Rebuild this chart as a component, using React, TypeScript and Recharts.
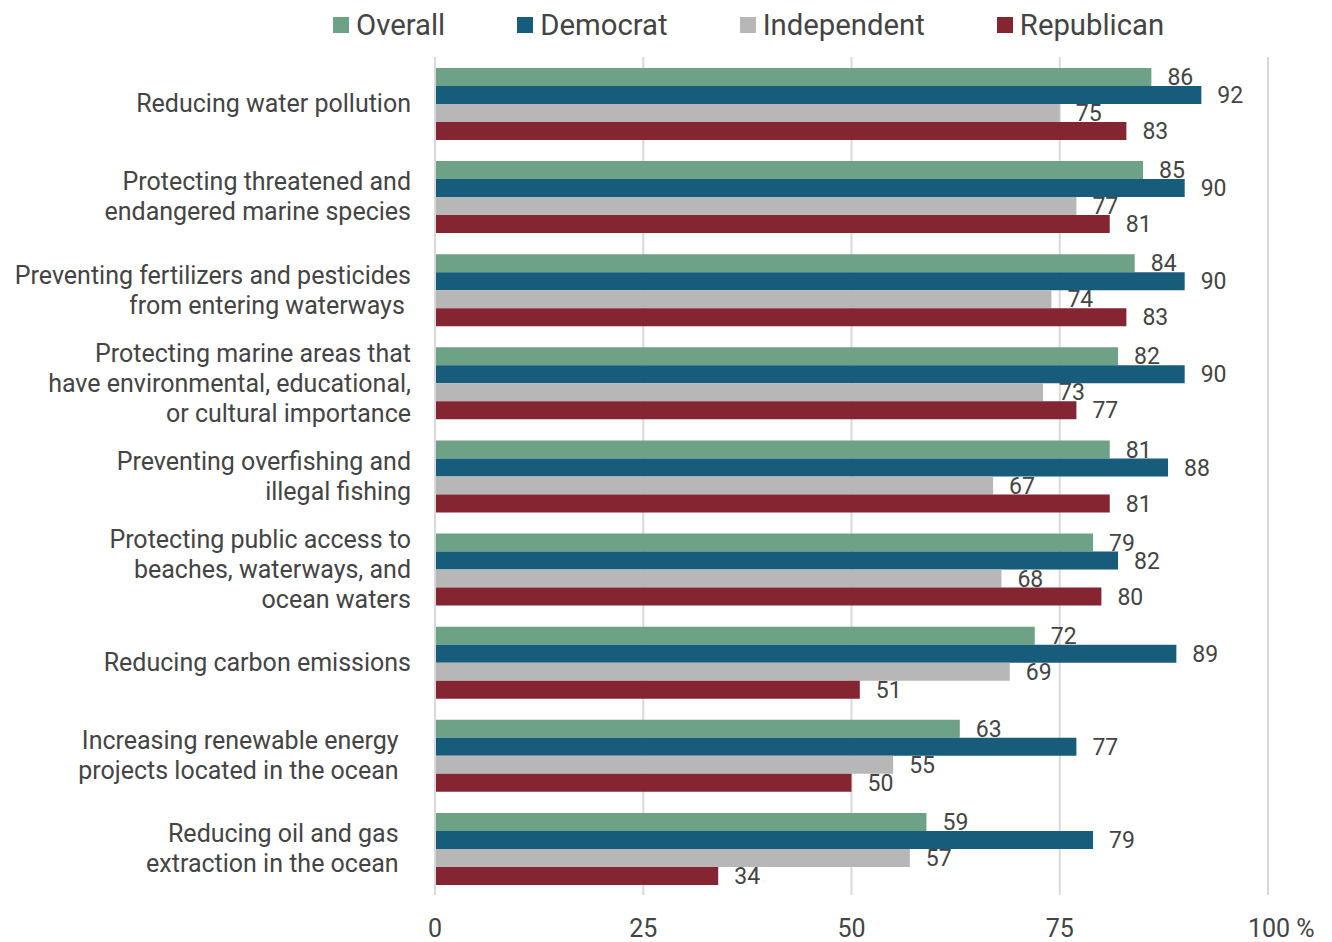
import React from 'react';
import { BarChart, Bar, XAxis, YAxis, CartesianGrid, LabelList, Legend } from 'recharts';

const categories: string[][] = [
  ['Reducing water pollution'],
  ['Protecting threatened and', 'endangered marine species'],
  ['Preventing fertilizers and pesticides', 'from entering waterways '],
  ['Protecting marine areas that', 'have environmental, educational,', 'or cultural importance'],
  ['Preventing overfishing and', 'illegal fishing'],
  ['Protecting public access to', 'beaches, waterways, and', 'ocean waters'],
  ['Reducing carbon emissions'],
  ['Increasing renewable energy  ', 'projects located in the ocean  '],
  ['Reducing oil and gas  ', 'extraction in the ocean  '],
];

const overall = [86, 85, 84, 82, 81, 79, 72, 63, 59];
const democrat = [92, 90, 90, 90, 88, 82, 89, 77, 79];
const independent = [75, 77, 74, 73, 67, 68, 69, 55, 57];
const republican = [83, 81, 83, 77, 81, 80, 51, 50, 34];

const xTicks = [0, 25, 50, 75, 100];

const seriesNames = ['Overall', 'Democrat', 'Independent', 'Republican'];
const seriesKeys = ['overall', 'democrat', 'independent', 'republican'];
const colors = ['#6EA286', '#175D7B', '#B7B7B7', '#852532'];

const data = categories.map((c, i) => ({
  name: c.join('|'),
  overall: overall[i],
  democrat: democrat[i],
  independent: independent[i],
  republican: republican[i],
}));

const TEXT = '#444444';
const FONT = 'Roboto, "Noto Sans", sans-serif';

const YTick = (props: any) => {
  const { x, y, payload } = props;
  const lines: string[] = String(payload.value).split('|');
  const lh = 30;
  const start = -((lines.length - 1) * lh) / 2;
  return (
    <text x={x} y={y} textAnchor="end" fill={TEXT} fontSize={25} fontFamily={FONT} style={{ whiteSpace: 'pre' }}>
      {lines.map((l, i) => (
        <tspan key={i} x={x} y={y + start + i * lh} dy="0.35em">{l}</tspan>
      ))}
    </text>
  );
};

const XTick = (props: any) => {
  const { x, y, payload } = props;
  const v = payload.value;
  if (v === 100) {
    return (
      <text x={x - 20} y={y} textAnchor="start" fill={TEXT} fontSize={25} fontFamily={FONT} dy="0.35em" style={{ whiteSpace: 'pre' }}>
        100 %
      </text>
    );
  }
  return (
    <text x={x} y={y} textAnchor="middle" fill={TEXT} fontSize={25} fontFamily={FONT} dy="0.35em">
      {v}
    </text>
  );
};

const LegendContent = () => (
  <div style={{ display: 'flex', alignItems: 'center', gap: 72, paddingLeft: 333, fontFamily: FONT, fontSize: 29.3, color: TEXT, height: 50 }}>
    {seriesNames.map((n, i) => (
      <div key={n} style={{ display: 'flex', alignItems: 'center' }}>
        <span style={{ display: 'inline-block', width: 16, height: 16, background: colors[i], marginRight: 7 }} />
        <span>{n}</span>
      </div>
    ))}
  </div>
);

export default function App() {
  return (
    <div style={{ position: 'absolute', left: 0, top: 0, width: 1332, height: 942, background: '#fff' }}>
      <BarChart
        width={1332}
        height={942}
        data={data}
        layout="vertical"
        margin={{ top: 7, right: 64, left: 0, bottom: 7 }}
        barGap={0}
        barCategoryGap={10}
      >
        <CartesianGrid horizontal={false} vertical={true} stroke="#D9D9D9" strokeWidth={2} />
        <XAxis
          type="number"
          domain={[0, 100]}
          ticks={xTicks}
          axisLine={false}
          tickLine={false}
          tickSize={0}
          tickMargin={33}
          height={40}
          tick={<XTick />}
          interval={0}
        />
        <YAxis
          type="category"
          dataKey="name"
          width={435}
          axisLine={{ stroke: '#D9D9D9', strokeWidth: 2 }}
          tickLine={false}
          tickSize={0}
          tickMargin={24}
          tick={<YTick />}
          interval={0}
        />
        <Legend verticalAlign="top" content={<LegendContent />} wrapperStyle={{ top: 0, left: 0, width: 1332 }} />
        {seriesKeys.map((k, i) => (
          <Bar key={k} dataKey={k} name={seriesNames[i]} fill={colors[i]} barSize={18} isAnimationActive={false}>
            <LabelList dataKey={k} position="right" offset={16} fill={TEXT} fontSize={23} fontFamily={FONT} />
          </Bar>
        ))}
      </BarChart>
    </div>
  );
}
